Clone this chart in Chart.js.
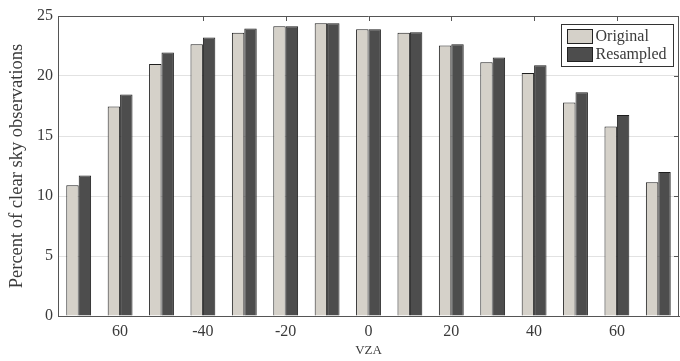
<!DOCTYPE html>
<html>
<head>
<meta charset="utf-8">
<script src="https://cdn.jsdelivr.net/npm/chart.js@4.4.1/dist/chart.umd.min.js"></script>
<style>
  html, body { margin: 0; padding: 0; background: #fff; }
</style>
</head>
<body>
<canvas id="graficaVZA" width="680" height="361"></canvas>
<script>
// VZA bins, -70 .. 70 in steps of 10
const angulosVZA = [-70, -60, -50, -40, -30, -20, -10, 0, 10, 20, 30, 40, 50, 60, 70];
// labels shown under the axis (only every other bin)
const etiquetasX = ['', '60', '', '-40', '', '-20', '', '0', '', '20', '', '40', '', '60', ''];
const original = [10.9, 17.45, 21.0, 22.65, 23.6, 24.15, 24.4, 23.9, 23.6, 22.55, 21.15, 20.25, 17.8, 15.8, 11.15];
const resampled = [11.7, 18.45, 21.95, 23.2, 23.95, 24.15, 24.4, 23.9, 23.65, 22.65, 21.55, 20.9, 18.65, 16.75, 12.0];
const ticksY = [0, 5, 10, 15, 20, 25];

const fuente = "'Liberation Serif', 'Times New Roman', serif";
const colorTexto = '#3a3a3a';
const colorEje = '#555';

// 🔧 top/right frame, inner tick marks and the boxed legend
const marcoYLeyenda = {
  id: 'marcoYLeyenda',
  afterDatasetsDraw(chart) {
    const { ctx, chartArea: a, scales } = chart;
    ctx.save();
    ctx.strokeStyle = colorEje;
    ctx.lineWidth = 1;
    ctx.beginPath();
    ctx.moveTo(a.left, a.top + 0.5);
    ctx.lineTo(a.right, a.top + 0.5);
    ctx.moveTo(a.right - 0.5, a.top);
    ctx.lineTo(a.right - 0.5, a.bottom);
    // top ticks where there is a label (skip the first one)
    etiquetasX.forEach((et, i) => {
      if (!et || i === 1) return;
      const x = Math.round(scales.x.getPixelForValue(i)) + 0.5;
      ctx.moveTo(x, a.top);
      ctx.lineTo(x, a.top + 5);
    });
    ticksY.slice(1, -1).forEach(v => {
      const y = Math.round(scales.y.getPixelForValue(v)) + 0.5;
      ctx.moveTo(a.right, y);
      ctx.lineTo(a.right - 5, y);
    });
    ctx.stroke();

    // legend box
    const caja = { x: a.right - 117.5, y: a.top + 8.5, w: 112, h: 42 };
    ctx.fillStyle = '#fff';
    ctx.fillRect(caja.x, caja.y, caja.w, caja.h);
    ctx.strokeStyle = '#333';
    ctx.strokeRect(caja.x, caja.y, caja.w, caja.h);
    ctx.font = `16px ${fuente}`;
    ctx.textBaseline = 'middle';
    chart.data.datasets.forEach((ds, i) => {
      const yy = caja.y + 5 + i * 18;
      ctx.fillStyle = ds.backgroundColor;
      ctx.fillRect(caja.x + 6, yy, 25, 14);
      ctx.strokeStyle = '#222';
      ctx.strokeRect(caja.x + 6, yy, 25, 14);
      ctx.fillStyle = colorTexto;
      ctx.fillText(ds.label, caja.x + 34, yy + 7.5);
    });
    ctx.restore();
  }
};

new Chart(document.getElementById('graficaVZA'), {
  type: 'bar',
  data: {
    labels: etiquetasX,
    datasets: [
      {
        label: 'Original',
        data: original,
        backgroundColor: '#d5d1c9',
        borderColor: '#1e1e1e',
        borderWidth: 1,
        categoryPercentage: 0.6,
        barPercentage: 1.0
      },
      {
        label: 'Resampled',
        data: resampled,
        backgroundColor: '#4d4d4d',
        borderColor: '#1e1e1e',
        borderWidth: 1,
        categoryPercentage: 0.6,
        barPercentage: 1.0
      }
    ]
  },
  options: {
    responsive: false,
    animation: false,
    devicePixelRatio: 1,
    layout: { padding: { top: 16, right: 1, left: 0, bottom: 0 } },
    plugins: {
      legend: { display: false },
      tooltip: { enabled: false }
    },
    scales: {
      x: {
        grid: { display: false, drawTicks: false },
        border: { display: true, color: colorEje },
        ticks: {
          autoSkip: false,
          maxRotation: 0,
          padding: 6,
          color: colorTexto,
          font: { family: fuente, size: 16 }
        },
        title: {
          display: true,
          text: 'VZA',
          color: colorTexto,
          padding: { top: 0, bottom: 3 },
          font: { family: fuente, size: 13 }
        },
        afterFit: s => { s.height = 45; }
      },
      y: {
        min: 0,
        max: 25,
        afterBuildTicks: s => { s.ticks = ticksY.map(v => ({ value: v })); },
        grid: { color: '#e2e2e2', drawTicks: false },
        border: { display: true, color: colorEje },
        ticks: {
          padding: 5,
          color: colorTexto,
          font: { family: fuente, size: 16 }
        },
        title: {
          display: true,
          text: 'Percent of clear sky observations',
          color: colorTexto,
          padding: { top: 6, bottom: 0 },
          font: { family: fuente, size: 18.5 }
        },
        afterFit: s => { s.width = 58; }
      }
    }
  },
  plugins: [marcoYLeyenda]
});
</script>
</body>
</html>
